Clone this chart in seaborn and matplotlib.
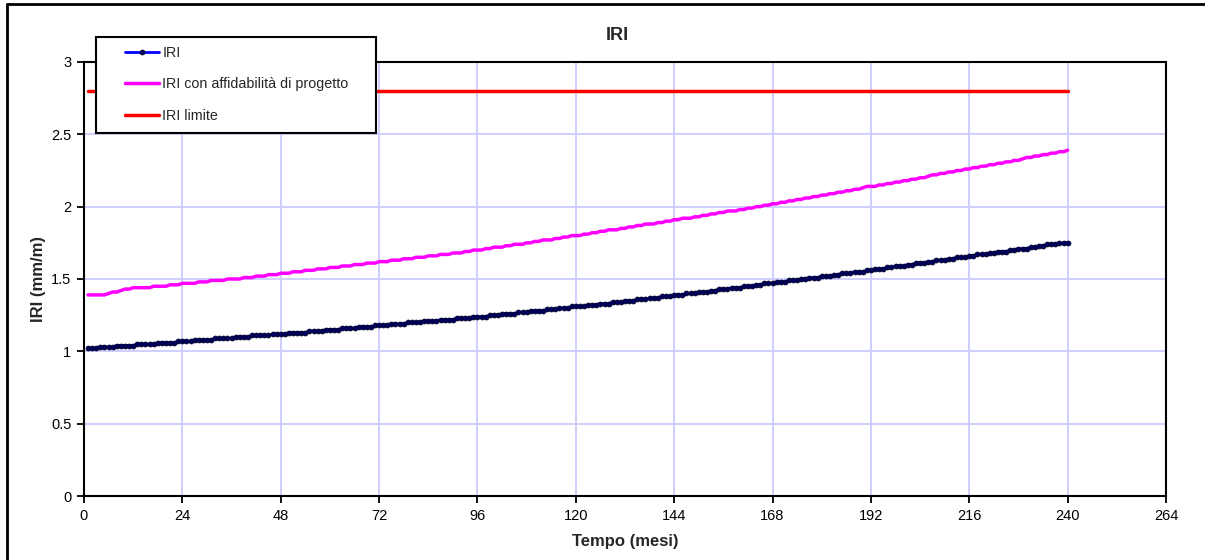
import matplotlib
matplotlib.use("Agg")
import matplotlib.pyplot as plt
import seaborn as sns
import pandas as pd
from matplotlib.patches import Rectangle
from matplotlib.lines import Line2D

# months 1..240
mesi = list(range(1, 241))

# IRI (mm/m), one value per month
iri = [
    1.02, 1.02, 1.02, 1.03, 1.03, 1.03, 1.03, 1.04, 1.04, 1.04, 1.04, 1.04,
    1.05, 1.05, 1.05, 1.05, 1.05, 1.06, 1.06, 1.06, 1.06, 1.06, 1.07, 1.07,
    1.07, 1.07, 1.08, 1.08, 1.08, 1.08, 1.08, 1.09, 1.09, 1.09, 1.09, 1.09,
    1.10, 1.10, 1.10, 1.10, 1.11, 1.11, 1.11, 1.11, 1.11, 1.12, 1.12, 1.12,
    1.12, 1.13, 1.13, 1.13, 1.13, 1.13, 1.14, 1.14, 1.14, 1.14, 1.15, 1.15,
    1.15, 1.15, 1.16, 1.16, 1.16, 1.16, 1.17, 1.17, 1.17, 1.17, 1.18, 1.18,
    1.18, 1.18, 1.19, 1.19, 1.19, 1.19, 1.20, 1.20, 1.20, 1.20, 1.21, 1.21,
    1.21, 1.21, 1.22, 1.22, 1.22, 1.22, 1.23, 1.23, 1.23, 1.23, 1.24, 1.24,
    1.24, 1.24, 1.25, 1.25, 1.25, 1.26, 1.26, 1.26, 1.26, 1.27, 1.27, 1.27,
    1.28, 1.28, 1.28, 1.28, 1.29, 1.29, 1.29, 1.30, 1.30, 1.30, 1.31, 1.31,
    1.31, 1.31, 1.32, 1.32, 1.32, 1.33, 1.33, 1.33, 1.34, 1.34, 1.34, 1.35,
    1.35, 1.35, 1.36, 1.36, 1.36, 1.37, 1.37, 1.37, 1.38, 1.38, 1.38, 1.39,
    1.39, 1.39, 1.40, 1.40, 1.40, 1.41, 1.41, 1.41, 1.42, 1.42, 1.43, 1.43,
    1.43, 1.44, 1.44, 1.44, 1.45, 1.45, 1.45, 1.46, 1.46, 1.47, 1.47, 1.47,
    1.48, 1.48, 1.48, 1.49, 1.49, 1.49, 1.50, 1.50, 1.51, 1.51, 1.51, 1.52,
    1.52, 1.52, 1.53, 1.53, 1.54, 1.54, 1.54, 1.55, 1.55, 1.55, 1.56, 1.56,
    1.57, 1.57, 1.57, 1.58, 1.58, 1.59, 1.59, 1.59, 1.60, 1.60, 1.61, 1.61,
    1.61, 1.62, 1.62, 1.63, 1.63, 1.63, 1.64, 1.64, 1.65, 1.65, 1.65, 1.66,
    1.66, 1.67, 1.67, 1.67, 1.68, 1.68, 1.69, 1.69, 1.69, 1.70, 1.70, 1.71,
    1.71, 1.71, 1.72, 1.72, 1.73, 1.73, 1.74, 1.74, 1.74, 1.75, 1.75, 1.75,
]

# IRI con affidabilita di progetto
iri_affid = [
    1.39, 1.39, 1.39, 1.39, 1.39, 1.40, 1.41, 1.41, 1.42, 1.43, 1.43, 1.44,
    1.44, 1.44, 1.44, 1.44, 1.45, 1.45, 1.45, 1.45, 1.46, 1.46, 1.46, 1.47,
    1.47, 1.47, 1.47, 1.48, 1.48, 1.48, 1.49, 1.49, 1.49, 1.49, 1.50, 1.50,
    1.50, 1.50, 1.51, 1.51, 1.51, 1.52, 1.52, 1.52, 1.53, 1.53, 1.53, 1.54,
    1.54, 1.54, 1.55, 1.55, 1.55, 1.56, 1.56, 1.56, 1.57, 1.57, 1.57, 1.58,
    1.58, 1.58, 1.59, 1.59, 1.59, 1.60, 1.60, 1.60, 1.61, 1.61, 1.61, 1.62,
    1.62, 1.62, 1.63, 1.63, 1.63, 1.64, 1.64, 1.64, 1.65, 1.65, 1.65, 1.66,
    1.66, 1.66, 1.67, 1.67, 1.67, 1.68, 1.68, 1.68, 1.69, 1.69, 1.70, 1.70,
    1.70, 1.71, 1.71, 1.72, 1.72, 1.72, 1.73, 1.73, 1.74, 1.74, 1.74, 1.75,
    1.75, 1.76, 1.76, 1.77, 1.77, 1.77, 1.78, 1.78, 1.79, 1.79, 1.80, 1.80,
    1.80, 1.81, 1.81, 1.82, 1.82, 1.83, 1.83, 1.84, 1.84, 1.84, 1.85, 1.85,
    1.86, 1.86, 1.87, 1.87, 1.88, 1.88, 1.88, 1.89, 1.89, 1.90, 1.90, 1.91,
    1.91, 1.92, 1.92, 1.92, 1.93, 1.93, 1.94, 1.94, 1.95, 1.95, 1.96, 1.96,
    1.97, 1.97, 1.97, 1.98, 1.98, 1.99, 1.99, 2.00, 2.00, 2.01, 2.01, 2.02,
    2.02, 2.03, 2.03, 2.04, 2.04, 2.05, 2.05, 2.06, 2.06, 2.07, 2.07, 2.08,
    2.08, 2.09, 2.09, 2.10, 2.10, 2.11, 2.11, 2.12, 2.12, 2.13, 2.14, 2.14,
    2.14, 2.15, 2.15, 2.16, 2.16, 2.17, 2.17, 2.18, 2.18, 2.19, 2.19, 2.20,
    2.20, 2.21, 2.22, 2.22, 2.23, 2.23, 2.24, 2.24, 2.25, 2.25, 2.26, 2.26,
    2.27, 2.27, 2.28, 2.28, 2.29, 2.29, 2.30, 2.30, 2.31, 2.31, 2.32, 2.32,
    2.33, 2.34, 2.34, 2.35, 2.35, 2.36, 2.36, 2.37, 2.37, 2.38, 2.38, 2.39,
]

# IRI limite (constant threshold)
iri_limite = [2.80] * 240

xticks = list(range(0, 265, 24))
yticks = [0, 0.5, 1, 1.5, 2, 2.5, 3]
ytick_labels = ["0", "0.5", "1", "1.5", "2", "2.5", "3"]

sns.set_style("white")
plt.rcParams["font.family"] = ["Liberation Sans", "DejaVu Sans"]

df = pd.DataFrame({"mesi": mesi, "iri": iri, "affid": iri_affid, "limite": iri_limite})

fig = plt.figure(figsize=(12.05, 5.6), dpi=100)
W, H = 1205, 560
ax = fig.add_axes([84 / W, 64 / H, (1166 - 84) / W, (496 - 62) / H])

sns.lineplot(data=df, x="mesi", y="limite", ax=ax, color="#ff0000", lw=2.5,
             label="IRI limite")
sns.lineplot(data=df, x="mesi", y="affid", ax=ax, color="#ff00ff", lw=2.5,
             label="IRI con affidabilità di progetto")
sns.lineplot(data=df, x="mesi", y="iri", ax=ax, color="#0000ff", lw=2,
             marker="o", markersize=3.5, markerfacecolor="#000066",
             markeredgecolor="#000022", markeredgewidth=0.6, label="IRI")

handles, labels = ax.get_legend_handles_labels()
if ax.get_legend() is not None:
    ax.get_legend().remove()

ax.set_xlim(0, 264)
ax.set_ylim(0, 3)
ax.set_xticks(xticks)
ax.set_yticks(yticks)
ax.set_yticklabels(ytick_labels)
ax.grid(True, color="#ccccff", lw=1.3)
ax.set_axisbelow(True)
for sp in ax.spines.values():
    sp.set_color("black")
    sp.set_linewidth(1.5)
ax.tick_params(direction="out", length=5, width=1.3, labelsize=10.5, pad=4,
               colors="black", bottom=True, left=True)
ax.set_xlabel("Tempo (mesi)", fontweight="bold", fontsize=12, labelpad=8)
ax.set_ylabel("IRI (mm/m)", fontweight="bold", fontsize=12, labelpad=4)

fig.text(617 / W, 1 - 35 / H, "IRI", ha="center", va="center",
         fontweight="bold", fontsize=13)

# legend box sitting over the top-left of the plot
fig.add_artist(Rectangle((96 / W, 1 - 133 / H), 280 / W, 96 / H,
                         transform=fig.transFigure, facecolor="white",
                         edgecolor="black", lw=1.5, zorder=3))
order = ["IRI", "IRI con affidabilità di progetto", "IRI limite"]
hmap = dict(zip(labels, handles))
leg = fig.legend([hmap[k] for k in order], order, loc="upper left",
                 bbox_to_anchor=(125 / W, 1 - 46 / H), frameon=False,
                 borderpad=0, borderaxespad=0, handlelength=2.4,
                 handletextpad=0.2, labelspacing=1.22, fontsize=10.3)
leg.set_zorder(5)

# outer chart border (left and top edges visible)
fig.add_artist(Line2D([7 / W, 7 / W], [0, 1 - 4 / H], transform=fig.transFigure,
                      color="black", lw=2))
fig.add_artist(Line2D([7 / W, 1], [1 - 4 / H, 1 - 4 / H], transform=fig.transFigure,
                      color="black", lw=2))

fig.savefig("out.png", dpi=100)
